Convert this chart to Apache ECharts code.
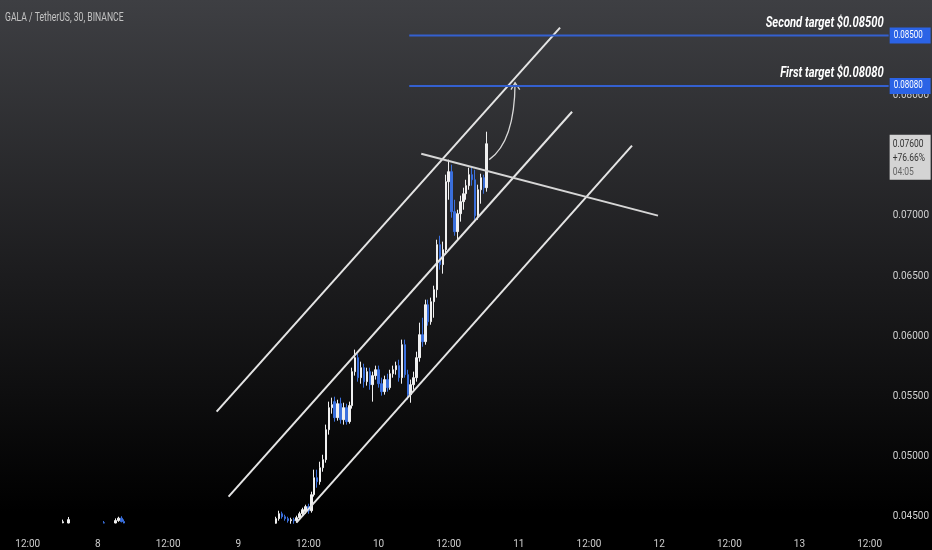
<!DOCTYPE html>
<html>
<head>
<meta charset="utf-8">
<title>GALA / TetherUS, 30, BINANCE</title>
<script src="https://cdn.jsdelivr.net/npm/echarts@6.0.0/dist/echarts.min.js"></script>
<style>
  html, body { margin: 0; padding: 0; background: #000; }
  #chart { width: 932px; height: 550px; }
</style>
</head>
<body>
<div id="chart"></div>
<script>
var FONT = "Roboto, 'Liberation Sans', sans-serif";

// 30 minute bars, first bar is day 7 07:30
var startDay = 7, startMinute = 7 * 60 + 30, barCount = 304;

// [open, close, low, high] - quiet stretch, mostly under the visible range
var preCandles = [
  [0.04380, 0.04395, 0.04362, 0.04410], [0.04395, 0.04388, 0.04370, 0.04412], [0.04388, 0.04402, 0.04375, 0.04418],
  [0.04402, 0.04391, 0.04380, 0.04415], [0.04391, 0.04376, 0.04360, 0.04400], [0.04376, 0.04385, 0.04358, 0.04398],
  [0.04385, 0.04398, 0.04372, 0.04410], [0.04398, 0.04410, 0.04385, 0.04425], [0.04410, 0.04402, 0.04390, 0.04428],
  [0.04402, 0.04415, 0.04392, 0.04430], [0.04415, 0.04408, 0.04394, 0.04432], [0.04408, 0.04396, 0.04380, 0.04420],
  [0.04396, 0.04404, 0.04385, 0.04418], [0.04404, 0.04390, 0.04372, 0.04412], [0.04390, 0.04382, 0.04366, 0.04401],
  [0.04382, 0.04395, 0.04370, 0.04408], [0.04395, 0.04406, 0.04384, 0.04421], [0.04406, 0.04418, 0.04395, 0.04430],
  [0.04418, 0.04410, 0.04398, 0.04436], [0.04410, 0.04422, 0.04402, 0.04438], [0.04422, 0.04440, 0.04408, 0.04443],
  [0.04452, 0.04460, 0.04448, 0.04478], [0.04440, 0.04432, 0.04415, 0.04444], [0.04450, 0.04478, 0.04448, 0.04500],
  [0.04440, 0.04428, 0.04415, 0.04444], [0.04428, 0.04412, 0.04398, 0.04435], [0.04412, 0.04405, 0.04390, 0.04424],
  [0.04405, 0.04392, 0.04380, 0.04415], [0.04392, 0.04400, 0.04378, 0.04412], [0.04400, 0.04412, 0.04388, 0.04420],
  [0.04412, 0.04405, 0.04395, 0.04425], [0.04405, 0.04418, 0.04396, 0.04430], [0.04418, 0.04425, 0.04402, 0.04440],
  [0.04425, 0.04418, 0.04405, 0.04438], [0.04418, 0.04430, 0.04410, 0.04442], [0.04452, 0.04450, 0.04448, 0.04466],
  [0.04436, 0.04422, 0.04410, 0.04444], [0.04422, 0.04415, 0.04400, 0.04436], [0.04415, 0.04425, 0.04405, 0.04438],
  [0.04450, 0.04470, 0.04448, 0.04488], [0.04470, 0.04490, 0.04460, 0.04502], [0.04490, 0.04462, 0.04455, 0.04506],
  [0.04462, 0.04450, 0.04448, 0.04480], [0.04440, 0.04415, 0.04400, 0.04444], [0.04415, 0.04402, 0.04388, 0.04428],
  [0.04402, 0.04390, 0.04375, 0.04415], [0.04390, 0.04378, 0.04360, 0.04402], [0.04378, 0.04385, 0.04365, 0.04398],
  [0.04385, 0.04372, 0.04356, 0.04395], [0.04372, 0.04360, 0.04345, 0.04386], [0.04360, 0.04368, 0.04348, 0.04380],
  [0.04368, 0.04355, 0.04340, 0.04378], [0.04355, 0.04342, 0.04328, 0.04366], [0.04342, 0.04350, 0.04330, 0.04362],
  [0.04350, 0.04338, 0.04322, 0.04360], [0.04338, 0.04326, 0.04310, 0.04348], [0.04326, 0.04335, 0.04315, 0.04346],
  [0.04335, 0.04348, 0.04322, 0.04358], [0.04348, 0.04340, 0.04328, 0.04362], [0.04340, 0.04330, 0.04318, 0.04352],
  [0.04330, 0.04342, 0.04320, 0.04355], [0.04342, 0.04355, 0.04335, 0.04368], [0.04355, 0.04348, 0.04336, 0.04370],
  [0.04348, 0.04360, 0.04340, 0.04372], [0.04360, 0.04372, 0.04350, 0.04385], [0.04372, 0.04365, 0.04352, 0.04388],
  [0.04365, 0.04378, 0.04355, 0.04390], [0.04378, 0.04388, 0.04366, 0.04400], [0.04388, 0.04380, 0.04368, 0.04402],
  [0.04380, 0.04372, 0.04360, 0.04395], [0.04372, 0.04385, 0.04362, 0.04398], [0.04385, 0.04396, 0.04375, 0.04410],
  [0.04396, 0.04388, 0.04378, 0.04412], [0.04388, 0.04400, 0.04380, 0.04415], [0.04400, 0.04412, 0.04390, 0.04425],
  [0.04412, 0.04405, 0.04392, 0.04428], [0.04405, 0.04398, 0.04385, 0.04420], [0.04398, 0.04410, 0.04388, 0.04422],
  [0.04410, 0.04420, 0.04400, 0.04432], [0.04420, 0.04412, 0.04402, 0.04436], [0.04412, 0.04405, 0.04395, 0.04428],
  [0.04405, 0.04416, 0.04398, 0.04430], [0.04416, 0.04425, 0.04405, 0.04438], [0.04425, 0.04418, 0.04408, 0.04440],
  [0.04418, 0.04410, 0.04398, 0.04432], [0.04410, 0.04422, 0.04400, 0.04435], [0.04422, 0.04430, 0.04412, 0.04442],
  [0.04430, 0.04424, 0.04415, 0.04444], [0.04424, 0.04432, 0.04412, 0.04443], [0.04432, 0.04426, 0.04416, 0.04444],
  [0.04426, 0.04435, 0.04418, 0.04443], [0.04435, 0.04440, 0.04422, 0.04444], [0.04440, 0.04436, 0.04428, 0.04444],
  [0.04436, 0.04442, 0.04430, 0.04444]
];

// [open, close, low, high] - the run up from day 9 to day 10 evening
var rallyCandles = [
  [0.04448, 0.04486, 0.04444, 0.04502], [0.04486, 0.04527, 0.04469, 0.04552], [0.04527, 0.04502, 0.04486, 0.04544],
  [0.04502, 0.04486, 0.04469, 0.04519], [0.04486, 0.04469, 0.04453, 0.04502], [0.04469, 0.04478, 0.04444, 0.04494],
  [0.04478, 0.04469, 0.04444, 0.04494], [0.04469, 0.04494, 0.04453, 0.04511], [0.04494, 0.04527, 0.04478, 0.04544],
  [0.04527, 0.04561, 0.04511, 0.04577], [0.04544, 0.04586, 0.04527, 0.04602], [0.04586, 0.04552, 0.04527, 0.04610],
  [0.04552, 0.04685, 0.04536, 0.04710], [0.04685, 0.04826, 0.04669, 0.04893], [0.04826, 0.04793, 0.04743, 0.04893],
  [0.04793, 0.04909, 0.04768, 0.04959], [0.04909, 0.04976, 0.04876, 0.05017], [0.04976, 0.05225, 0.04951, 0.05267],
  [0.05225, 0.05408, 0.05184, 0.05458], [0.05408, 0.05433, 0.05358, 0.05491], [0.05458, 0.05325, 0.05292, 0.05499],
  [0.05325, 0.05441, 0.05300, 0.05474], [0.05441, 0.05308, 0.05275, 0.05491], [0.05308, 0.05408, 0.05267, 0.05449],
  [0.05408, 0.05292, 0.05267, 0.05441], [0.05292, 0.05425, 0.05275, 0.05458], [0.05425, 0.05707, 0.05400, 0.05740],
  [0.05707, 0.05823, 0.05674, 0.05890], [0.05823, 0.05657, 0.05624, 0.05856], [0.05657, 0.05740, 0.05607, 0.05790],
  [0.05740, 0.05624, 0.05574, 0.05773], [0.05624, 0.05707, 0.05591, 0.05740], [0.05707, 0.05599, 0.05557, 0.05740],
  [0.05599, 0.05674, 0.05458, 0.05707], [0.05674, 0.05723, 0.05641, 0.05757], [0.05723, 0.05607, 0.05574, 0.05757],
  [0.05607, 0.05541, 0.05508, 0.05657], [0.05541, 0.05641, 0.05516, 0.05674], [0.05641, 0.05574, 0.05541, 0.05690],
  [0.05574, 0.05690, 0.05557, 0.05723], [0.05690, 0.05723, 0.05657, 0.05757], [0.05723, 0.05757, 0.05682, 0.05790],
  [0.05757, 0.05657, 0.05624, 0.05806], [0.05657, 0.05931, 0.05607, 0.05973], [0.05931, 0.05682, 0.05657, 0.05973],
  [0.05682, 0.05516, 0.05474, 0.05723], [0.05516, 0.05599, 0.05449, 0.05641], [0.05599, 0.05657, 0.05557, 0.05707],
  [0.05657, 0.05823, 0.05624, 0.05873], [0.05823, 0.06014, 0.05790, 0.06114], [0.06014, 0.05956, 0.05914, 0.06155],
  [0.05956, 0.06263, 0.05931, 0.06305], [0.06263, 0.06122, 0.06089, 0.06305], [0.06122, 0.06288, 0.06097, 0.06322],
  [0.06288, 0.06388, 0.06155, 0.06421], [0.06388, 0.06762, 0.06322, 0.06803], [0.06762, 0.06596, 0.06554, 0.06836],
  [0.06596, 0.06720, 0.06521, 0.06787], [0.06720, 0.07285, 0.06679, 0.07343], [0.07285, 0.07368, 0.07135, 0.07468],
  [0.07368, 0.07036, 0.06986, 0.07426], [0.07036, 0.06870, 0.06836, 0.07135], [0.06870, 0.07019, 0.06803, 0.07052],
  [0.07019, 0.07119, 0.06953, 0.07169], [0.07119, 0.07185, 0.07052, 0.07235], [0.07185, 0.07252, 0.07135, 0.07301],
  [0.07252, 0.07343, 0.07218, 0.07401], [0.07343, 0.07301, 0.07252, 0.07401], [0.07301, 0.07002, 0.06969, 0.07384],
  [0.07002, 0.07218, 0.06969, 0.07260], [0.07218, 0.07318, 0.07102, 0.07351], [0.07318, 0.07235, 0.07185, 0.07343],
  [0.07235, 0.07600, 0.07202, 0.07700]
];

// drawings, as [bar index, price]
var channelUpper = [[73.6, 0.05375], [191.1, 0.08564]];
var channelMiddle = [[77.7, 0.04669], [195.2, 0.07866]];
var channelLower = [[100.9, 0.04453], [215.7, 0.07584]];
var resistance = [[143.6, 0.07517], [224.6, 0.07003]];
var arrowCurve = [[166.85, 0.07468], [175.6, 0.07620], [175.7, 0.08107]];
var arrowBarbs = [[174.3, 0.08050], [177.3, 0.08050]];

var targetFrom = 139.5;
var targetPrices = [0.085, 0.0808];
var targetTexts = ['Second target $0.08500', 'First target $0.08080'];
var targetBoxTexts = ['0.08500', '0.08080'];

var lastPrice = 0.076;
var lastQuote = ['0.07600', '+76.66%', '04:05'];

function pad(n) { return (n < 10 ? '0' : '') + n; }
var times = [];
for (var i = 0; i < barCount; i++) {
  var m = startMinute + 30 * i;
  var mm = m % 1440;
  times.push((startDay + Math.floor(m / 1440)) + ' ' + pad(Math.floor(mm / 60)) + ':' + pad(mm % 60));
}
var candles = preCandles.concat(rallyCandles);

function trendLine(points, color) {
  return {
    type: 'line', xAxisIndex: 1, yAxisIndex: 0, data: points,
    symbol: 'none', silent: true, z: 3,
    lineStyle: { color: color, width: 2 }
  };
}

// narrow text: the snapshot is squeezed sideways
function narrowText(text, x, y, align, vAlign, fill, font, sx) {
  return {
    type: 'text', x: x, y: y, scaleX: sx,
    style: { text: text, x: 0, y: 0, align: align, verticalAlign: vAlign, fill: fill, font: font }
  };
}

function renderTarget(params, api) {
  var k = params.dataIndex;
  var start = api.coord([api.value(0), api.value(1)]);
  var right = params.coordSys.x + params.coordSys.width;
  var y = start[1];
  return {
    type: 'group',
    children: [
      { type: 'line', shape: { x1: start[0], y1: y, x2: right, y2: y }, style: { stroke: '#3460d0', lineWidth: 2 } },
      narrowText(targetTexts[k], right - 5, y - 5, 'right', 'bottom', '#ffffff', 'italic bold 14px ' + FONT, 0.8),
      { type: 'rect', shape: { x: right + 1, y: y - 8, width: 41, height: 16 }, style: { fill: '#2b63e6' } },
      narrowText(targetBoxTexts[k], right + 5, y, 'left', 'middle', '#ffffff', '10px ' + FONT, 0.8)
    ]
  };
}

function renderQuote(params, api) {
  var y = api.coord([api.value(0), api.value(1)])[1];
  var right = params.coordSys.x + params.coordSys.width;
  var cols = ['#333333', '#333333', '#666666'];
  var kids = [{ type: 'rect', shape: { x: right + 1, y: y - 9, width: 41, height: 45 }, style: { fill: '#d4d4d4' } }];
  lastQuote.forEach(function (t, k) {
    kids.push(narrowText(t, right + 4, y + 1 + k * 13.7, 'left', 'middle', cols[k], '10px ' + FONT, 0.85));
  });
  return { type: 'group', children: kids };
}

function renderArrow(params, api) {
  var a = api.coord(arrowCurve[0]), c = api.coord(arrowCurve[1]), b = api.coord(arrowCurve[2]);
  var l = api.coord(arrowBarbs[0]), r = api.coord(arrowBarbs[1]);
  var st = { stroke: '#d8d8d8', fill: null, lineWidth: 1.3 };
  return {
    type: 'group',
    children: [
      { type: 'bezierCurve', shape: { x1: a[0], y1: a[1], cpx1: c[0], cpy1: c[1], x2: b[0], y2: b[1] }, style: st },
      { type: 'polyline', shape: { points: [l, b, r] }, style: st }
    ]
  };
}

var chart = echarts.init(document.getElementById('chart'));
var option = {
  animation: false,
  backgroundColor: {
    type: 'linear', x: 0, y: 0, x2: 0, y2: 1,
    colorStops: [{ offset: 0, color: '#3e3f43' }, { offset: 0.5, color: '#1c1c1e' }, { offset: 0.93, color: '#000000' }, { offset: 1, color: '#000000' }]
  },
  graphic: [{
    type: 'text', left: 5, top: 12, scaleX: 0.72,
    style: { text: 'GALA / TetherUS, 30, BINANCE', fill: '#c4c4c4', font: '12px ' + FONT }
  }],
  grid: { left: 0, right: 42, top: 0, bottom: 27 },
  xAxis: [{
    type: 'category',
    data: times,
    boundaryGap: true,
    axisLine: { show: false },
    axisTick: { show: false },
    splitLine: { show: false },
    axisLabel: {
      color: '#cccccc', fontSize: 10, fontFamily: FONT, margin: 16,
      interval: function (idx, val) { return /(00|12):00$/.test(val); },
      formatter: function (val) {
        var parts = val.split(' ');
        return parts[1] === '00:00' ? parts[0] : '12:00';
      }
    }
  }, {
    type: 'value', show: false, min: -0.5, max: barCount - 0.5
  }],
  yAxis: {
    type: 'value',
    position: 'right',
    min: 0.0445, max: 0.08794, interval: 0.0005,
    axisLine: { show: false },
    axisTick: { show: false },
    splitLine: { show: false },
    axisLabel: {
      color: '#d2d2d2', fontSize: 10, fontFamily: FONT, margin: 4,
      formatter: function (v) { return Math.round(v * 2000) % 10 === 0 ? v.toFixed(5) : ''; }
    }
  },
  series: [
    {
      type: 'candlestick',
      xAxisIndex: 0,
      data: candles,
      barWidth: 2,
      itemStyle: { color: '#f0f0f0', color0: '#3a6fdc', borderColor: '#f0f0f0', borderColor0: '#3a6fdc', borderWidth: 1 }
    },
    trendLine(channelUpper, '#e4e4e4'),
    trendLine(channelMiddle, '#e4e4e4'),
    trendLine(channelLower, '#e4e4e4'),
    trendLine(resistance, '#d6d6d6'),
    {
      type: 'custom', xAxisIndex: 1, yAxisIndex: 0, z: 5, silent: true,
      data: [arrowCurve[2]], encode: { x: 0, y: 1 }, renderItem: renderArrow
    },
    {
      type: 'custom', xAxisIndex: 1, yAxisIndex: 0, z: 6, silent: true,
      data: targetPrices.map(function (p) { return [targetFrom, p]; }), encode: { x: 0, y: 1 },
      renderItem: renderTarget
    },
    {
      type: 'custom', xAxisIndex: 1, yAxisIndex: 0, z: 6, silent: true,
      data: [[candles.length - 1, lastPrice]], encode: { x: 0, y: 1 },
      renderItem: renderQuote
    }
  ]
};
chart.setOption(option);
</script>
</body>
</html>
